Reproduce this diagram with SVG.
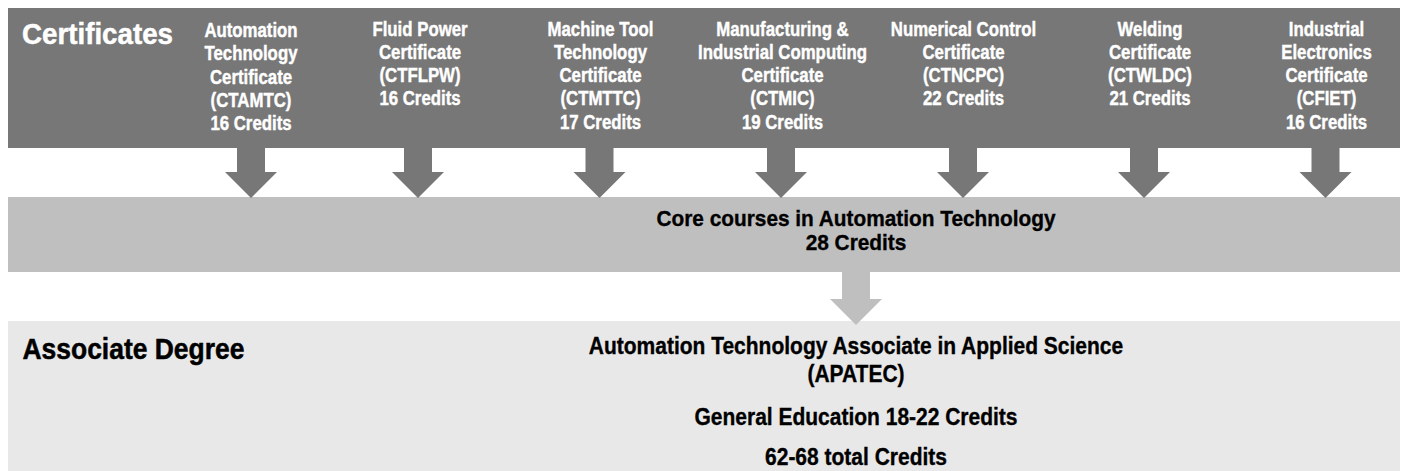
<svg xmlns="http://www.w3.org/2000/svg" width="1403" height="471" viewBox="0 0 1403 471">
<style>
.t{font-family:"Liberation Sans",Arial,Helvetica,sans-serif;font-weight:bold}
.lbl{font-size:21px;fill:#fff;stroke:#fff;stroke-width:0.45;text-anchor:middle}
.head{font-size:30px;stroke-width:0.5}
.core{font-size:22px;fill:#000;stroke:#000;stroke-width:0.35;text-anchor:middle}
.asc{font-size:24px;fill:#000;stroke:#000;stroke-width:0.35;text-anchor:middle}
.darkfill{fill:#777777}
.lightfill{fill:#bfbfbf}
.palefill{fill:#e8e8e8}
</style>
<rect width="1403" height="471" fill="#ffffff"/>
<g id="certificates">
<rect class="darkfill" x="8" y="8" width="1392" height="140"/>
<text class="t head" fill="#fff" stroke="#fff" transform="translate(22 43.5) scale(0.925 1)">Certificates</text>
</g>
<g id="cert-ctamtc">
<text class="t lbl" transform="translate(251 37) scale(0.8 1)"><tspan x="0" y="0">Automation</tspan><tspan x="0" dy="23.3">Technology</tspan><tspan x="0" dy="23.3">Certificate</tspan><tspan x="0" dy="23.3">(CTAMTC)</tspan><tspan x="0" dy="23.3">16 Credits</tspan></text>
</g>
<g id="cert-ctflpw">
<text class="t lbl" transform="translate(420 35.5) scale(0.8 1)"><tspan x="0" y="0">Fluid Power</tspan><tspan x="0" dy="23.3">Certificate</tspan><tspan x="0" dy="23.3">(CTFLPW)</tspan><tspan x="0" dy="23.3">16 Credits</tspan></text>
</g>
<g id="cert-ctmttc">
<text class="t lbl" transform="translate(600.5 35.5) scale(0.8 1)"><tspan x="0" y="0">Machine Tool</tspan><tspan x="0" dy="23.3">Technology</tspan><tspan x="0" dy="23.3">Certificate</tspan><tspan x="0" dy="23.3">(CTMTTC)</tspan><tspan x="0" dy="23.3">17 Credits</tspan></text>
</g>
<g id="cert-ctmic">
<text class="t lbl" transform="translate(782.5 35.5) scale(0.8 1)"><tspan x="0" y="0">Manufacturing &amp;</tspan><tspan x="0" dy="23.3">Industrial Computing</tspan><tspan x="0" dy="23.3">Certificate</tspan><tspan x="0" dy="23.3">(CTMIC)</tspan><tspan x="0" dy="23.3">19 Credits</tspan></text>
</g>
<g id="cert-ctncpc">
<text class="t lbl" transform="translate(963.5 35.5) scale(0.8 1)"><tspan x="0" y="0">Numerical Control</tspan><tspan x="0" dy="23.3">Certificate</tspan><tspan x="0" dy="23.3">(CTNCPC)</tspan><tspan x="0" dy="23.3">22 Credits</tspan></text>
</g>
<g id="cert-ctwldc">
<text class="t lbl" transform="translate(1150 35.5) scale(0.8 1)"><tspan x="0" y="0">Welding</tspan><tspan x="0" dy="23.3">Certificate</tspan><tspan x="0" dy="23.3">(CTWLDC)</tspan><tspan x="0" dy="23.3">21 Credits</tspan></text>
</g>
<g id="cert-cfiet">
<text class="t lbl" transform="translate(1326.5 35.5) scale(0.8 1)"><tspan x="0" y="0">Industrial</tspan><tspan x="0" dy="23.3">Electronics</tspan><tspan x="0" dy="23.3">Certificate</tspan><tspan x="0" dy="23.3">(CFIET)</tspan><tspan x="0" dy="23.3">16 Credits</tspan></text>
</g>
<g id="core">
<rect class="lightfill" x="8" y="197" width="1392" height="75"/>
<text class="t core" transform="translate(856 225.5) scale(0.947 1)"><tspan x="0" y="0">Core courses in Automation Technology</tspan><tspan x="0" dy="24.5">28 Credits</tspan></text>
</g>
<g id="associate">
<rect class="palefill" x="8" y="321" width="1392" height="150"/>
<text class="t head" fill="#000" stroke="#000" transform="translate(22.5 358.5) scale(0.882 1)">Associate Degree</text>
<text class="t asc" transform="translate(856 353.5) scale(0.875 1)"><tspan x="0" y="0">Automation Technology Associate in Applied Science</tspan><tspan x="0" dy="28.5">(APATEC)</tspan><tspan x="0" dy="43">General Education 18-22 Credits</tspan><tspan x="0" dy="40">62-68 total Credits</tspan></text>
</g>
<g id="connectors">
<polygon class="darkfill" points="237,148 265,148 265,172 277,172 251,198 225,172 237,172"/>
<polygon class="darkfill" points="404,148 432,148 432,172 444,172 418,198 392,172 404,172"/>
<polygon class="darkfill" points="585.5,148 613.5,148 613.5,172 625.5,172 599.5,198 573.5,172 585.5,172"/>
<polygon class="darkfill" points="767,148 795,148 795,172 807,172 781,198 755,172 767,172"/>
<polygon class="darkfill" points="949,148 977,148 977,172 989,172 963,198 937,172 949,172"/>
<polygon class="darkfill" points="1130,148 1158,148 1158,172 1170,172 1144,198 1118,172 1130,172"/>
<polygon class="darkfill" points="1311.5,148 1339.5,148 1339.5,172 1351.5,172 1325.5,198 1299.5,172 1311.5,172"/>
<polygon class="lightfill" points="842,272 870,272 870,299 882,299 856,325 830,299 842,299"/>
</g>
</svg>
